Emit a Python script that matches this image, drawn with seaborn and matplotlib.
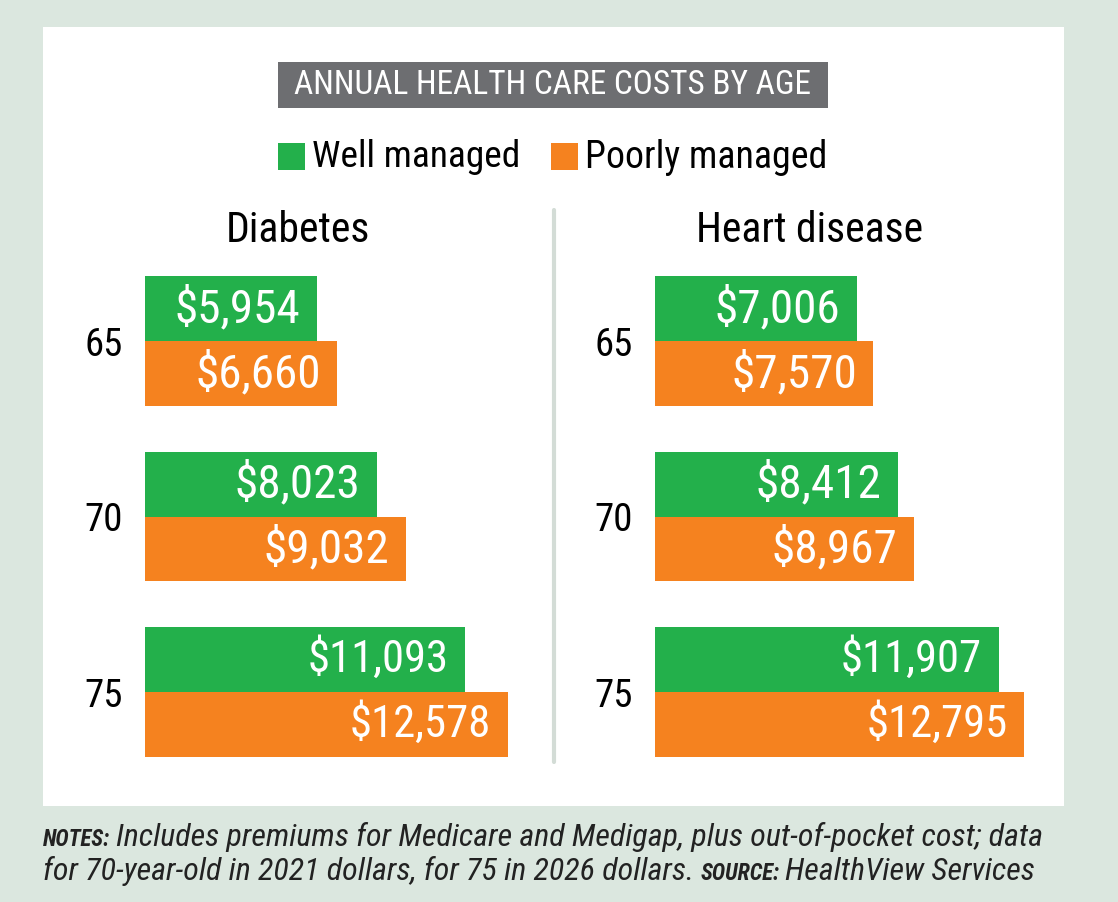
import matplotlib
matplotlib.use('Agg')
import matplotlib.pyplot as plt
from matplotlib import font_manager
from matplotlib.patches import Rectangle
import seaborn as sns
import pandas as pd

# data
ages = ['65', '70', '75']
groups = ['Well managed', 'Poorly managed']
diabetes_well = [5954, 8023, 11093]
diabetes_poor = [6660, 9032, 12578]
heart_well = [7006, 8412, 11907]
heart_poor = [7570, 8967, 12795]
panel_titles = ['Diabetes', 'Heart disease']

GREEN = '#23b04b'
ORANGE = '#f5821f'
BG = '#dbe7df'
TITLE_GRAY = '#6d6e71'

sns.set_theme(style='white')

# look for a condensed face, the reference uses a narrow grotesque
fonts = font_manager.fontManager.ttflist
names = {f.name for f in fonts}
family = None
for cand in ['Liberation Sans Narrow', 'Roboto Condensed', 'Open Sans Condensed',
             'Noto Sans Condensed', 'DejaVu Sans Condensed']:
    if cand in names:
        family = cand
        break
stretch = 'normal'
if family is None:
    cond = [f for f in fonts if f.stretch in ('condensed', 'semi-condensed', 'extra-condensed')
            or 'Condensed' in f.name or 'Narrow' in f.name]
    if cond:
        family = cond[0].name
        if cond[0].stretch != 'normal':
            stretch = cond[0].stretch
    else:
        family = 'Roboto'
plt.rcParams['font.family'] = [family, 'DejaVu Sans']
plt.rcParams['font.stretch'] = stretch


def make_df(well, poor):
    rows = []
    for a, w, p in zip(ages, well, poor):
        rows.append({'age': a, 'group': groups[0], 'cost': w})
        rows.append({'age': a, 'group': groups[1], 'cost': p})
    return pd.DataFrame(rows)


W, H = 1118, 902
fig = plt.figure(figsize=(W / 100, H / 100), dpi=100, facecolor=BG)
renderer = fig.canvas.get_renderer()


def fit(t, target_w):
    # shrink a text until it is no wider than in the reference
    w = t.get_window_extent(renderer).width
    if w > target_w:
        t.set_fontsize(t.get_fontsize() * target_w / w)
    return t


# white card
fig.patches.append(Rectangle((43 / W, 1 - 806 / H), 1021 / W, 779 / H,
                             transform=fig.transFigure, facecolor='white',
                             edgecolor='none', zorder=-5))

# title box
fig.patches.append(Rectangle((278 / W, 1 - 108 / H), 550 / W, 46 / H,
                             transform=fig.transFigure, facecolor=TITLE_GRAY,
                             edgecolor='none', zorder=-4))
fit(fig.text(553 / W, 1 - 85 / H, 'ANNUAL HEALTH CARE COSTS BY AGE', color='white',
             fontsize=26, ha='center', va='center'), 517)

# legend
for x0, col, lab, tx, tw in [(278, GREEN, groups[0], 312, 208),
                             (551, ORANGE, groups[1], 585, 242)]:
    fig.patches.append(Rectangle((x0 / W, 1 - 170 / H), 27 / W, 27 / H,
                                 transform=fig.transFigure, facecolor=col,
                                 edgecolor='none', zorder=-4))
    fit(fig.text(tx / W, 1 - 157 / H, lab, color='black', fontsize=28,
                 ha='left', va='center'), tw)

# axes geometry (pixels)
px_per_dollar = 0.02886
xmax = 13500
ax_w = xmax * px_per_dollar
ax_top, ax_bot = 253.25, 779.75

datasets = [(diabetes_well, diabetes_poor), (heart_well, heart_poor)]
lefts = [145, 655]
centers = [298, 810]
title_w = [147, 230]

for (well, poor), left, cx, title, tw in zip(datasets, lefts, centers, panel_titles, title_w):
    ax = fig.add_axes([left / W, 1 - ax_bot / H, ax_w / W, (ax_bot - ax_top) / H])
    ax.set_facecolor('none')
    df = make_df(well, poor)
    sns.barplot(data=df, x='cost', y='age', hue='group', hue_order=groups,
                palette=[GREEN, ORANGE], orient='h', width=0.74, dodge=True,
                saturation=1, ax=ax, legend=False, errorbar=None, linewidth=0)
    ax.set_xlim(0, xmax)
    ax.set_ylim(2.5, -0.5)
    for cont in ax.containers:
        texts = ax.bar_label(cont, labels=[f'${v:,.0f}' for v in cont.datavalues],
                             padding=-12, color='white', fontsize=34)
        for t in texts:
            t.set_ha('right')
            fit(t, 141 if len(t.get_text()) > 6 else 127)
    ax.set_xlabel('')
    ax.set_ylabel('')
    ax.set_xticks([])
    ax.tick_params(axis='y', length=0, pad=16, labelsize=28, labelcolor='black')
    for s in ax.spines.values():
        s.set_visible(False)
    fit(fig.text(cx / W, 1 - 230 / H, title, fontsize=30, ha='center', va='center',
                 color='black'), tw)

# divider
fig.add_artist(plt.Line2D([554 / W, 554 / W], [1 - 210 / H, 1 - 762 / H],
                          transform=fig.transFigure, color='#d3dcd6', lw=3))


# notes, built piece by piece and scaled to the reference line width
def run_text(pieces, x_px, y_px, target_w):
    for scale_pass in range(2):
        x = x_px
        made = []
        for txt, kw in pieces:
            t = fig.text(x / W, 1 - y_px / H, txt, ha='left', va='baseline', **kw)
            made.append(t)
            x = t.get_window_extent(renderer).x1 + 6
        width = x - 6 - x_px
        if scale_pass == 0 and width > target_w:
            k = target_w / width
            for t in made:
                t.remove()
            pieces = [(txt, dict(kw, fontsize=kw['fontsize'] * k)) for txt, kw in pieces]
        else:
            break


note_kw = dict(fontsize=24, style='italic', color='#222222')
lab_kw = dict(fontsize=17, style='italic', weight='bold', color='#222222')
run_text([('NOTES:', lab_kw),
          ('Includes premiums for Medicare and Medigap, plus out-of-pocket cost; data', note_kw)],
         43, 846, 1002)
run_text([('for 70-year-old in 2021 dollars, for 75 in 2026 dollars.', note_kw),
          ('SOURCE:', lab_kw), ('HealthView Services', note_kw)],
         43, 880, 992)

fig.savefig('out.png', dpi=100, facecolor=BG)
